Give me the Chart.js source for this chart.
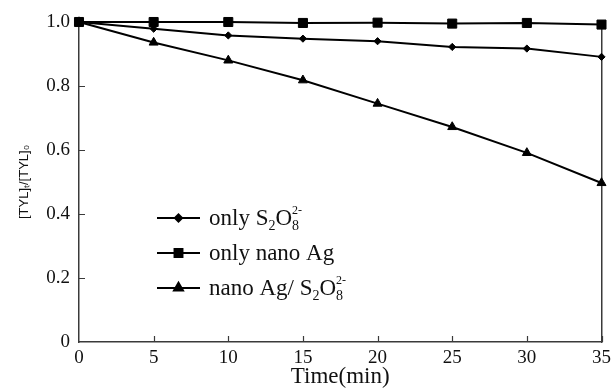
<!DOCTYPE html>
<html>
<head>
<meta charset="utf-8">
<script src="https://cdn.jsdelivr.net/npm/chart.js@4.4.1/dist/chart.umd.min.js"></script>
<style>
  html, body { margin: 0; padding: 0; background: #fff; }
  #wrap { width: 611px; height: 392px; position: relative; }
</style>
</head>
<body>
<div id="wrap"><canvas id="c" width="611" height="392"></canvas></div>
<script>
// ---- data ----
const timeMin = [0, 5, 10, 15, 20, 25, 30, 35];
const onlyS2O8 = [1.0, 0.979, 0.958, 0.948, 0.940, 0.922, 0.917, 0.891];
const onlyNanoAg = [1.0, 1.0, 1.0, 0.997, 0.998, 0.995, 0.997, 0.992];
const nanoAgS2O8 = [1.0, 0.936, 0.880, 0.818, 0.745, 0.672, 0.591, 0.497];
const xTickValues = [0, 5, 10, 15, 20, 25, 30, 35];
const yTickValues = [0, 0.2, 0.4, 0.6, 0.8, 1.0];
const seriesNames = ['only S2O8', 'only nano Ag', 'nano Ag/ S2O8'];

const SERIF = "'Liberation Serif', 'Times New Roman', serif";
const SANS = "'Liberation Sans', Arial, sans-serif";
const AXIS_COLOR = '#3a3a3a';

function toPoints(ys) { return timeMin.map((t, i) => ({ x: t, y: ys[i] })); }

const styles = [
  { pointStyle: 'rectRot', radius: 3.6 },
  { pointStyle: 'rect', radius: 6.4 },
  { pointStyle: 'triangle', radius: 5.2 }
];

// inward tick marks
const innerTicks = {
  id: 'innerTicks',
  afterDraw(chart) {
    const { ctx, chartArea: a, scales: { x, y } } = chart;
    ctx.save();
    ctx.strokeStyle = AXIS_COLOR;
    ctx.lineWidth = 1.2;
    ctx.beginPath();
    xTickValues.forEach(v => {
      if (v === 0) return;
      const px = Math.round(x.getPixelForValue(v)) + 0.5;
      ctx.moveTo(px, a.bottom);
      ctx.lineTo(px, a.bottom - 6);
    });
    yTickValues.forEach(v => {
      if (v === 0 || v === 1) return;
      const py = Math.round(y.getPixelForValue(v)) + 0.5;
      ctx.moveTo(a.left, py);
      ctx.lineTo(a.left + 6, py);
    });
    ctx.stroke();
    ctx.restore();
  }
};

// legend with sub/superscripts
const customLegend = {
  id: 'customLegend',
  afterDatasetsDraw(chart) {
    const { ctx } = chart;
    const x0 = 157, x1 = 200, tx = 209;
    const rows = [218, 253, 288];
    const big = 23, small = 14;
    rows.forEach((ly, i) => {
      ctx.save();
      ctx.strokeStyle = '#000';
      ctx.lineWidth = 2;
      ctx.beginPath();
      ctx.moveTo(x0, ly);
      ctx.lineTo(x1, ly);
      ctx.stroke();
      ctx.fillStyle = '#000';
      Chart.helpers.drawPoint(ctx, {
        pointStyle: styles[i].pointStyle,
        radius: i === 1 ? 5.6 : styles[i].radius,
        rotation: 0,
        borderWidth: 1
      }, (x0 + x1) / 2, ly);
      ctx.fill();
      ctx.restore();

      ctx.save();
      ctx.fillStyle = '#111';
      ctx.textBaseline = 'alphabetic';
      const base = ly + 7;
      let cx = tx;
      const put = (txt, size, dy) => {
        ctx.font = size + 'px ' + SERIF;
        ctx.fillText(txt, cx, base + dy);
        return ctx.measureText(txt).width;
      };
      if (i === 1) {
        put('only nano Ag', big, 0);
      } else {
        const pre = i === 0 ? 'only S' : 'nano Ag/ S';
        cx += put(pre, big, 0);
        cx += put('2', small, 5);
        cx += put('O', big, 0);
        const w8 = put('8', small, 5);
        put('2-', small - 2, -11);
        cx += w8;
      }
      ctx.restore();
    });
  }
};

const ds = [onlyS2O8, onlyNanoAg, nanoAgS2O8].map((vals, i) => ({
  label: seriesNames[i],
  data: toPoints(vals),
  borderColor: '#000',
  backgroundColor: '#000',
  borderWidth: 2,
  pointStyle: styles[i].pointStyle,
  pointRadius: styles[i].radius,
  pointHoverRadius: styles[i].radius,
  pointBackgroundColor: '#000',
  pointBorderColor: '#000',
  pointBorderWidth: 1,
  tension: 0,
  clip: false,
  order: i === 1 ? 0 : 1
}));

new Chart(document.getElementById('c'), {
  type: 'line',
  data: { datasets: ds },
  options: {
    responsive: false,
    animation: false,
    devicePixelRatio: 1,
    layout: { padding: { top: 22, right: 9.5, bottom: 0, left: 0 } },
    plugins: { legend: { display: false }, tooltip: { enabled: false } },
    scales: {
      x: {
        type: 'linear',
        min: 0, max: 35,
        afterBuildTicks: s => { s.ticks = xTickValues.map(v => ({ value: v })); },
        ticks: {
          color: '#111',
          font: { family: SERIF, size: 19 },
          padding: 5,
          maxRotation: 0,
          callback: v => String(v)
        },
        grid: { drawOnChartArea: false, drawTicks: false },
        border: { color: AXIS_COLOR, width: 1.5 },
        title: {
          display: true,
          text: 'Time(min)',
          color: '#111',
          font: { family: SERIF, size: 23 },
          padding: { top: 0, bottom: 1 }
        },
        afterFit: s => { s.height = 50; s.paddingRight = 0; s.paddingLeft = 0; }
      },
      y: {
        type: 'linear',
        min: 0, max: 1,
        afterBuildTicks: s => { s.ticks = yTickValues.map(v => ({ value: v })); },
        ticks: {
          color: '#111',
          font: { family: SERIF, size: 19 },
          padding: 9,
          callback: v => (v === 0 ? '0' : Number(v).toFixed(1))
        },
        grid: { drawOnChartArea: false, drawTicks: false },
        border: { color: AXIS_COLOR, width: 1.5 },
        title: {
          display: true,
          text: '[TYL]ₜ/[TYL]₀',
          color: '#111',
          font: { family: SANS, size: 13 },
          padding: { top: 17, bottom: 0 }
        },
        afterFit: s => { s.width = 79; }
      },
      y2: {
        type: 'linear',
        position: 'right',
        min: 0, max: 1,
        ticks: { display: false },
        grid: { drawOnChartArea: false, drawTicks: false },
        border: { color: AXIS_COLOR, width: 1.5 },
        afterFit: s => { s.width = 0; }
      }
    }
  },
  plugins: [innerTicks, customLegend]
});
</script>
</body>
</html>
